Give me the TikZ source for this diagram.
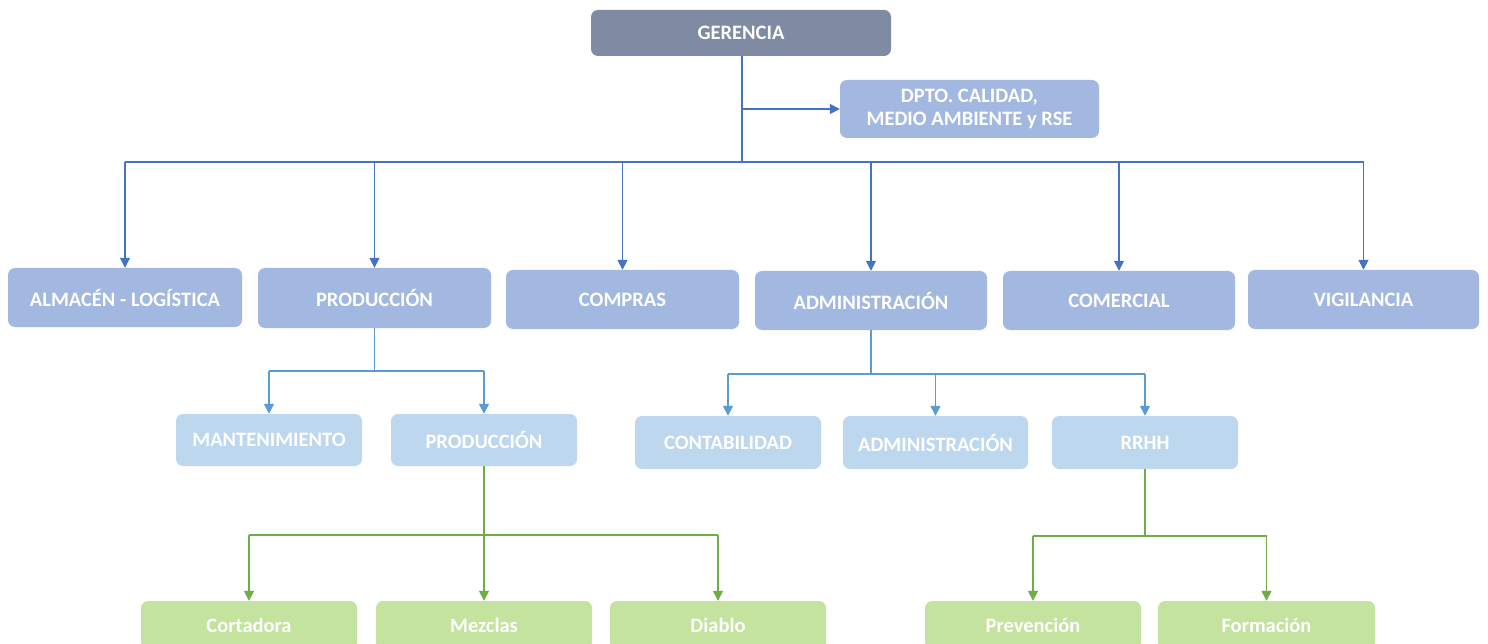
\documentclass[tikz,border=0pt]{standalone}
\usepackage{fontspec}
\setmainfont{Carlito}
\usetikzlibrary{arrows.meta}
\definecolor{cger}{HTML}{7F8AA3}
\definecolor{cone}{HTML}{A2B8E0}
\definecolor{ctwo}{HTML}{BDD7EE}
\definecolor{cthree}{HTML}{C4E39E}
\definecolor{lone}{HTML}{4472C4}
\definecolor{ltwo}{HTML}{5B9BD5}
\definecolor{lthree}{HTML}{70AD47}
\tikzset{
  box/.style={rounded corners=7pt, draw=none, text=white, font=\fontsize{20.5}{23}\selectfont\bfseries, align=center, inner sep=0pt},
  bger/.style={box, fill=cger},
  bone/.style={box, fill=cone},
  btwo/.style={box, fill=ctwo},
  bthree/.style={box, fill=cthree},
  cone line/.style={draw=lone, line width=1.5pt},
  ctwo line/.style={draw=ltwo, line width=1.5pt},
  cthree line/.style={draw=lthree, line width=1.5pt},
  tip/.style={-{Triangle[width=10pt,length=10pt]}}
}
\begin{document}
\begin{tikzpicture}[x=1pt,y=-1pt]
\useasboundingbox (0,0) rectangle (1488,644);
% level 0
\node[bger, minimum width=300pt, minimum height=46pt] (ger) at (741,33) {GERENCIA};
\node[bone, minimum width=259pt, minimum height=58pt] (dpto) at (969.5,109) {DPTO. CALIDAD,\\MEDIO AMBIENTE y RSE};
% level 1
\node[bone, minimum width=234pt, minimum height=59pt] (alm) at (125,297.5) {ALMACÉN - LOGÍSTICA};
\node[bone, minimum width=233pt, minimum height=60pt] (prod) at (374.5,298) {PRODUCCIÓN};
\node[bone, minimum width=233pt, minimum height=59pt] (comp) at (622.5,299.5) {COMPRAS};
\node[bone, minimum width=232pt, minimum height=59pt] (adm) at (871,300.5) {ADMINISTRACIÓN};
\node[bone, minimum width=232pt, minimum height=59pt] (com) at (1119,300.5) {COMERCIAL};
\node[bone, minimum width=231pt, minimum height=59pt] (vig) at (1363.5,299.5) {VIGILANCIA};
% level 2
\node[btwo, minimum width=186pt, minimum height=52pt] (mant) at (269,440) {MANTENIMIENTO};
\node[btwo, minimum width=186pt, minimum height=52pt] (prodb) at (484,440) {PRODUCCIÓN};
\node[btwo, minimum width=186pt, minimum height=53pt] (cont) at (728,442.5) {CONTABILIDAD};
\node[btwo, minimum width=185pt, minimum height=53pt] (admb) at (935.5,442.5) {ADMINISTRACIÓN};
\node[btwo, minimum width=186pt, minimum height=53pt] (rrhh) at (1145,442.5) {RRHH};
% level 3
\node[bthree, minimum width=216pt, minimum height=48pt] (cort) at (249,625) {Cortadora};
\node[bthree, minimum width=216pt, minimum height=48pt] (mez) at (484,625) {Mezclas};
\node[bthree, minimum width=216pt, minimum height=48pt] (dia) at (718,625) {Diablo};
\node[bthree, minimum width=216pt, minimum height=48pt] (prev) at (1033,625) {Prevención};
\node[bthree, minimum width=217pt, minimum height=48pt] (form) at (1266.5,625) {Formación};
% bus coordinates
\coordinate (bus) at (742,162);
\coordinate (pbus) at (375,371);
\coordinate (abus) at (871,374);
\coordinate (gbus) at (485,535);
\coordinate (rbus) at (1146,536);
% top connectors
\draw[cone line, line width=2.2pt] (ger.south -| bus) -- (bus);
\draw[cone line, tip] (ger.south |- dpto.west) -- (dpto.west);
\draw[cone line] (bus -| alm.north) -- (bus -| vig.north);
\foreach \n in {alm,prod,comp,adm,com,vig}
  \draw[cone line, tip] (bus -| \n.north) -- (\n.north);
% production
\draw[ctwo line] (prod.south) -- (pbus -| prod.south);
\draw[ctwo line] (pbus -| mant.north) -- (pbus -| prodb.north);
\foreach \n in {mant,prodb}
  \draw[ctwo line, tip] (pbus -| \n.north) -- (\n.north);
% administration
\draw[ctwo line] (adm.south) -- (abus -| adm.south);
\draw[ctwo line] (abus -| cont.north) -- (abus -| rrhh.north);
\foreach \n in {cont,admb,rrhh}
  \draw[ctwo line, tip] (abus -| \n.north) -- (\n.north);
% green production
\draw[cthree line] (prodb.south) -- (gbus -| prodb.south);
\draw[cthree line] (gbus -| cort.north) -- (gbus -| dia.north);
\foreach \n in {cort,mez,dia}
  \draw[cthree line, tip] (gbus -| \n.north) -- (\n.north);
% green rrhh
\draw[cthree line] (rrhh.south) -- (rbus -| rrhh.south);
\draw[cthree line] (rbus -| prev.north) -- (rbus -| form.north);
\foreach \n in {prev,form}
  \draw[cthree line, tip] (rbus -| \n.north) -- (\n.north);
\end{tikzpicture}
\end{document}
